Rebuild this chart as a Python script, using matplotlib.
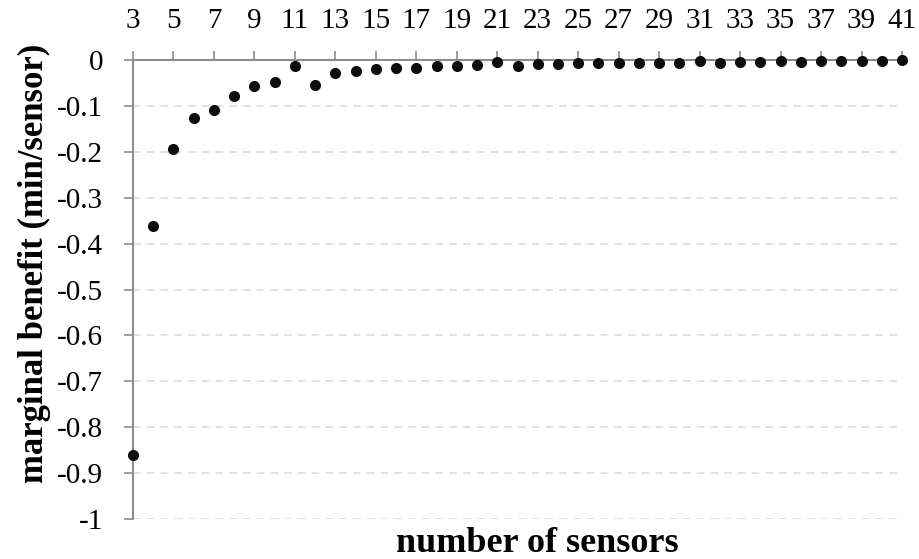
import numpy as np
import matplotlib.pyplot as plt

# number of sensors vs marginal benefit (min/sensor)
sensors = list(range(3, 42))
benefit = [-0.861, -0.361, -0.194, -0.126, -0.110, -0.078, -0.056, -0.048, -0.014,
           -0.055, -0.028, -0.024, -0.020, -0.017, -0.017, -0.014, -0.012, -0.011,
           -0.004, -0.013, -0.009, -0.009, -0.007, -0.007, -0.006, -0.006, -0.006,
           -0.006, -0.002, -0.007, -0.004, -0.004, -0.003, -0.004, -0.003, -0.003,
           -0.003, -0.003, -0.001]
xticks = list(range(3, 42, 2))
yticks = [0, -0.1, -0.2, -0.3, -0.4, -0.5, -0.6, -0.7, -0.8, -0.9, -1]
ytick_labels = ["0", "-0.1", "-0.2", "-0.3", "-0.4", "-0.5", "-0.6", "-0.7", "-0.8", "-0.9", "-1"]

plt.rcParams['font.family'] = ['Liberation Serif', 'DejaVu Serif']

W, H = 919, 559
fig = plt.figure(figsize=(W / 100, H / 100), dpi=100)
ax = fig.add_axes([133 / W, 1 - 519 / H, (902 - 133) / W, (519 - 60) / H])

ax.plot(sensors, benefit, 'o', color='#0d0d0d', markersize=7, clip_on=False, zorder=5)

ax.set_xlim(3, 41)
ax.set_ylim(-1, 0)
ax.set_xticks(xticks)
ax.set_yticks(yticks)
ax.set_yticklabels(ytick_labels)

ax.xaxis.tick_top()
ax.tick_params(axis='x', direction='out', length=6.5, width=1.2, color='#8c8c8c',
               labelsize=21, pad=12)
ax.tick_params(axis='y', direction='out', length=6.5, width=1.2, color='#8c8c8c',
               labelsize=21, pad=15)

for s in ['bottom', 'right']:
    ax.spines[s].set_visible(False)
for s in ['top', 'left']:
    ax.spines[s].set_color('#8c8c8c')
    ax.spines[s].set_linewidth(1.5)

ax.yaxis.grid(True, linestyle=(0, (5, 4)), color='#d9d9d9', linewidth=1.1)
ax.set_axisbelow(True)

fig.text(537 / W, 1 - 552 / H, 'number of sensors', fontsize=26, fontweight='bold',
         ha='center', va='baseline')
fig.text(43 / W, 1 - 263 / H, 'marginal benefit (min/sensor)', fontsize=25,
         fontweight='bold', ha='center', va='baseline', rotation=90,
         rotation_mode='anchor')

fig.savefig('out.png', dpi=100)
